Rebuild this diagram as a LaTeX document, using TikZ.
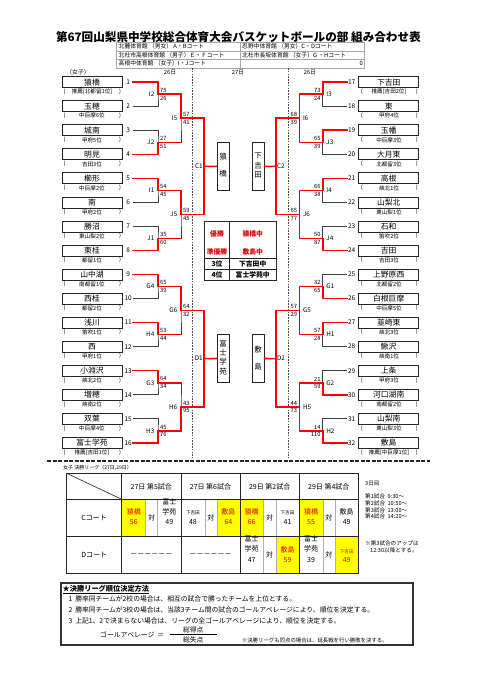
\documentclass[tikz,border=0pt]{standalone}
\usepackage{fontspec}
\setmainfont{Noto Sans CJK JP}
\usetikzlibrary{calc}
\definecolor{lred}{HTML}{FF0000}
\definecolor{tred}{HTML}{D80000}
\definecolor{hl}{HTML}{FFFF00}
\newcommand{\myfs}[1]{\fontsize{#1}{#1}\selectfont}
\begin{document}
\begin{tikzpicture}[x=1pt,y=-1pt,
  brk/.style={draw=black!75,line width=0.6pt},
  win/.style={draw=lred,line width=1.6pt,line cap=rect,line join=miter},
  tbox/.style={draw=black!85,line width=0.8pt,minimum width=60pt,minimum height=11pt,inner sep=0pt,font=\myfs{7.8}},
  vbox/.style={draw=black!85,line width=0.8pt,minimum width=12pt,minimum height=48.3pt,inner sep=0pt},
  vch/.style={inner sep=0pt,font=\myfs{7.5}},
  sub/.style={font=\myfs{5.6},inner sep=0pt},
  num/.style={font=\myfs{6.5},inner sep=0pt},
  sc/.style={font=\myfs{5.8},inner sep=0pt},
  lab/.style={font=\myfs{6.3},inner sep=0pt},
  hdr/.style={font=\myfs{5.8},inner sep=0pt,anchor=west},
  cell/.style={font=\myfs{7},inner sep=0pt},
  wcell/.style={font=\myfs{7},inner sep=0pt,text=tred},
  small/.style={font=\myfs{4.6},inner sep=0pt},
  note/.style={font=\myfs{5.6},inner sep=0pt,anchor=west},
  rule/.style={font=\myfs{6.8},inner sep=0pt,anchor=west},
  res/.style={font=\bfseries\myfs{6.8},inner sep=0pt},
  rres/.style={font=\bfseries\myfs{6.8},inner sep=0pt,text=tred},
]
\useasboundingbox (0,0) rectangle (481,680);
\fill[white] (0,0) rectangle (481,680);

% ---------- title and header ----------
\node[font=\bfseries\myfs{11.6},inner sep=0pt] (title) at (238.4,36.7) {第67回山梨県中学校総合体育大会バスケットボールの部 組み合わせ表};
\draw[gray!70,line width=0.5pt] (116.7,42.5) rectangle (364.3,67.8);
\draw[gray!70,line width=0.5pt] (116.7,50.9) -- (364.3,50.9) (116.7,59.3) -- (364.3,59.3) (240,42.5) -- (240,67.8);
\node[hdr] (h1) at (118.5,46.7) {北麓体育館 （男女） A・Bコート};
\node[hdr] (h2) at (242,46.7) {忍野中体育館 （男女）C・Dコート};
\node[hdr] (h3) at (118.5,55.1) {北杜市高根体育館 （男子）Ｅ・Ｆコート};
\node[hdr] (h4) at (242,55.1) {北杜市長坂体育館 （女子）G ・Hコート};
\node[hdr] (h5) at (118.5,63.5) {高根中体育館 （女子）I・Jコート};
\node[hdr,anchor=east] (h6) at (363,63.5) {0};

\node[hdr,anchor=center] (girls) at (78,72.5) {（女子）};
\node[hdr,anchor=center] (d1) at (170,72.5) {26日};
\node[hdr,anchor=center] (d2) at (238,72.5) {27日};
\node[hdr,anchor=center] (d3) at (310,72.5) {26日};

% dashed separators
\draw[black!70,line width=0.5pt,dash pattern=on 1.6pt off 1.2pt] (192.7,68) -- (192.7,458);
\draw[black!70,line width=0.5pt,dash pattern=on 1.6pt off 1.2pt] (288,68) -- (288,458);

% ---------- left teams ----------
\foreach \n/\s [count=\i] in {猿橋/推薦[北都留1位], 玉穂/中巨摩6位, 城南/甲府5位, 明見/吉田3位, 櫛形/中巨摩2位, 南/甲府2位, 勝沼/東山梨2位, 東桂/都留1位, 山中湖/南都留1位, 西桂/都留2位, 浅川/笛吹1位, 西/甲府1位, 小淵沢/峡北2位, 増穂/峡南2位, 双葉/中巨摩4位, 富士学苑/推薦[吉田1位]} {
  \pgfmathsetmacro\yy{82.2+24.04*(\i-1)}
  \node[tbox] (lt\i) at (92,\yy) {\n};
  \node[sub] (ls\i) at (92,\yy+9.6) {\s};
  \node[sub] (lpa\i) at (64.5,\yy+9.6) {(};
  \node[sub] (lpb\i) at (120,\yy+9.6) {)};
  \node[num] (ln\i) at (128.2,\yy) {\i};
  \coordinate (le\i) at (133,\yy);
}
% ---------- right teams ----------
\foreach \n/\s [count=\c] in {下吉田/推薦[吉田2位], 東/甲府4位, 玉幡/中巨摩3位, 大月東/北都留3位, 高根/峡北1位, 山梨北/東山梨1位, 石和/笛吹2位, 吉田/吉田3位, 上野原西/北都留2位, 白根巨摩/中巨摩5位, 韮崎東/峡北3位, 鰍沢/峡南1位, 上条/甲府3位, 河口湖南/南都留2位, 山梨南/東山梨3位, 敷島/推薦[中巨摩1位]} {
  \pgfmathtruncatemacro\i{\c+16}
  \pgfmathsetmacro\yy{82.2+24.04*(\c-1)}
  \node[tbox] (rt\i) at (388.7,\yy) {\n};
  \node[sub] (rs\i) at (389,\yy+9.6) {\s};
  \node[sub] (rpa\i) at (361.7,\yy+9.6) {(};
  \node[sub] (rpb\i) at (416.7,\yy+9.6) {)};
  \node[num] (rn\i) at (351.7,\yy) {\i};
  \coordinate (re\i) at (347,\yy);
}

% ---------- junction coordinates ----------
\foreach \k in {1,...,8} {
  \pgfmathsetmacro\m{82.2+24.04*(2*\k-1.5)}
  \coordinate (la\k) at (158,\m);
  \coordinate (ra\k) at (322.7,\m);
}
\foreach \j in {1,...,4} {
  \pgfmathsetmacro\m{82.2+24.04*(4*\j-2.5)}
  \coordinate (lb\j) at (181,\m);
  \coordinate (rb\j) at (299.3,\m);
}
\foreach \l in {1,2} {
  \pgfmathsetmacro\m{82.2+24.04*(8*\l-4.5)}
  \coordinate (lc\l) at (204,\m);
  \coordinate (rc\l) at (275.7,\m);
}

% ---------- semifinal boxes ----------
\node[vbox] (C1) at (223,166.4) {};
\node[vch] (C1a) at (223,157) {猿};
\node[vch] (C1b) at (223,174) {橋};
\node[vbox] (D1) at (223,358.5) {};
\node[vch] (D1a) at (223,343.5) {富};
\node[vch] (D1b) at (223,352.8) {士};
\node[vch] (D1c) at (223,362.1) {学};
\node[vch] (D1d) at (223,371.4) {苑};
\node[vbox] (C2) at (258.2,166.4) {};
\node[vch] (C2a) at (258.2,156) {下};
\node[vch] (C2b) at (258.2,165.5) {吉};
\node[vch] (C2c) at (258.2,175) {田};
\node[vbox] (D2) at (258.2,358.5) {};
\node[vch] (D2a) at (258.2,350) {敷};
\node[vch] (D2b) at (258.2,366.7) {島};

% ---------- black bracket lines ----------
\foreach \k in {1,...,8} {
  \pgfmathtruncatemacro\a{2*\k-1}\pgfmathtruncatemacro\b{2*\k}
  \pgfmathtruncatemacro\ra{2*\k+15}\pgfmathtruncatemacro\rb{2*\k+16}
  \draw[brk] (le\a) -| (la\k) |- (le\b);
  \draw[brk] (re\ra) -| (ra\k) |- (re\rb);
}
\foreach \j in {1,...,4} {
  \pgfmathtruncatemacro\a{2*\j-1}\pgfmathtruncatemacro\b{2*\j}
  \draw[brk] (la\a) -| (lb\j) |- (la\b);
  \draw[brk] (ra\a) -| (rb\j) |- (ra\b);
}
\foreach \l in {1,2} {
  \pgfmathtruncatemacro\a{2*\l-1}\pgfmathtruncatemacro\b{2*\l}
  \draw[brk] (lb\a) -| (lc\l) |- (lb\b);
  \draw[brk] (rb\a) -| (rc\l) |- (rb\b);
}
\draw[brk] (lc1) -- (C1.west);
\draw[brk] (lc2) -- (D1.west);
\draw[brk] (rc1) -- (C2.east);
\draw[brk] (rc2) -- (D2.east);

% ---------- red winner paths (left) ----------
\draw[win] (le1) -| (la1) -- (la1 -| lb1) -- (lb1) -- (lb1 -| lc1);
\draw[win] (le4) -| (la2) -- (la2 -| lb1);
\draw[win] (le5) -| (la3) -- (la3 -| lb2) -- (lb2) -- (lb2 -| lc1);
\draw[win] (le8) -| (la4) -- (la4 -| lb2);
\draw[win] (le9) -| (la5) -- (la5 -| lb3) -- (lb3) -- (lb3 -| lc2);
\draw[win] (le11) -| (la6) -- (la6 -| lb3);
\draw[win] (le13) -| (la7) -- (la7 -| lb4);
\draw[win] (le16) -| (la8) -- (la8 -| lb4) -- (lb4) -- (lb4 -| lc2);
\draw[win] (lb1 -| lc1) -- (lb2 -| lc1);
\draw[win] (lc1) -- (C1.west);
\draw[win] (lb3 -| lc2) -- (lb4 -| lc2);
\draw[win] (lc2) -- (D1.west);
% ---------- red winner paths (right) ----------
\draw[win] (re17) -| (ra1) -- (ra1 -| rb1) -- (rb1) -- (rb1 -| rc1);
\draw[win] (re19) -| (ra2) -- (ra2 -| rb1);
\draw[win] (re21) -| (ra3) -- (ra3 -| rb2);
\draw[win] (re24) -| (ra4) -- (ra4 -| rb2) -- (rb2) -- (rb2 -| rc1);
\draw[win] (re26) -| (ra5) -- (ra5 -| rb3) -- (rb3) -- (rb3 -| rc2);
\draw[win] (re27) -| (ra6) -- (ra6 -| rb3);
\draw[win] (re30) -| (ra7) -- (ra7 -| rb4);
\draw[win] (re32) -| (ra8) -- (ra8 -| rb4) -- (rb4) -- (rb4 -| rc2);
\draw[win] (rb1 -| rc1) -- (rb2 -| rc1);
\draw[win] (rc1) -- (C2.east);
\draw[win] (rb3 -| rc2) -- (rb4 -| rc2);
\draw[win] (rc2) -- (D2.east);

% ---------- labels and scores ----------
\foreach \l/\t/\b [count=\k] in {I2/75/26, J2/27/51, I1/54/45, J1/35/60, G4/65/39, H4/53/44, G3/64/34, H3/45/76} {
  \node[lab,anchor=east] (lal\k) at ($(la\k)+(-3.5,0)$) {\l};
  \node[sc,anchor=west] (lat\k) at ($(la\k)+(2,-3.8)$) {\t};
  \node[sc,anchor=west] (lab\k) at ($(la\k)+(2,3.8)$) {\b};
}
\foreach \l/\t/\b [count=\k] in {I5/57/41, J5/59/45, G6/64/32, H6/43/95} {
  \node[lab,anchor=east] (lbl\k) at ($(lb\k)+(-3.5,0)$) {\l};
  \node[sc,anchor=west] (lbt\k) at ($(lb\k)+(2,-3.8)$) {\t};
  \node[sc,anchor=west] (lbb\k) at ($(lb\k)+(2,3.8)$) {\b};
}
\foreach \l/\t/\b [count=\k] in {I3/73/24, J3/65/39, I4/66/38, J4/50/87, G1/32/65, H1/57/28, G2/21/59, H2/14/110} {
  \node[lab,anchor=west] (ral\k) at ($(ra\k)+(3.5,0)$) {\l};
  \node[sc,anchor=east] (rat\k) at ($(ra\k)+(-2,-3.8)$) {\t};
  \node[sc,anchor=east] (rab\k) at ($(ra\k)+(-2,3.8)$) {\b};
}
\foreach \l/\t/\b [count=\k] in {I6/68/39, J6/65/77, G5/57/29, H5/44/73} {
  \node[lab,anchor=west] (rbl\k) at ($(rb\k)+(3.5,0)$) {\l};
  \node[sc,anchor=east] (rbt\k) at ($(rb\k)+(-2,-3.8)$) {\t};
  \node[sc,anchor=east] (rbb\k) at ($(rb\k)+(-2,3.8)$) {\b};
}
\node[lab,anchor=east] (lcl1) at ($(lc1)+(-1.2,0)$) {C1};
\node[lab,anchor=east] (lcl2) at ($(lc2)+(-1.2,0)$) {D1};
\node[lab,anchor=west] (rcl1) at ($(rc1)+(1.2,0)$) {C2};
\node[lab,anchor=west] (rcl2) at ($(rc2)+(1.2,0)$) {D2};

% ---------- result table ----------
\draw[black!85,line width=0.7pt] (204.5,221) rectangle (276,280.5);
\draw[black!85,line width=0.7pt] (229.5,221) -- (229.5,280.5) (204.5,258.5) -- (276,258.5) (204.5,269.5) -- (276,269.5);
\node[rres] (r1a) at (217,234.3) {優勝};
\node[rres] (r1b) at (252.7,234.3) {猿橋中};
\node[rres] (r2a) at (217,252) {準優勝};
\node[rres] (r2b) at (252.7,252) {敷島中};
\node[res] (r3a) at (217,264) {3位};
\node[res] (r3b) at (252.7,264) {下吉田中};
\node[res] (r4a) at (217,275) {4位};
\node[res] (r4b) at (252.7,275) {富士学苑中};

% ---------- thick dashed separator ----------
\draw[black!85,line width=1.6pt,dash pattern=on 4pt off 1.5pt] (47,461) -- (430,461);
\node[note,font=\myfs{5}] (lg) at (63,467.5) {女子\ 決勝リーグ（27日,29日）};

% ---------- league table ----------
\fill[hl] (121.7,499.3) rectangle (145.6,536);
\fill[hl] (216.8,499.3) rectangle (240,536);
\fill[hl] (240,499.3) rectangle (263.3,536);
\fill[hl] (299.3,499.3) rectangle (322.7,536);
\fill[hl] (275.7,536) rectangle (299.3,573.8);
\fill[hl] (335,536) rectangle (358.3,573.8);
\draw[gray!60,line width=0.4pt]
  (145.6,499.3) -- (145.6,536) (157.5,499.3) -- (157.5,536)
  (204.7,499.3) -- (204.7,536) (216.8,499.3) -- (216.8,536)
  (263.3,499.3) -- (263.3,573.8) (275.7,499.3) -- (275.7,573.8)
  (322.7,499.3) -- (322.7,573.8) (335,499.3) -- (335,573.8);
\draw[black!85,line width=0.9pt] (66.7,473.3) rectangle (358.3,573.8);
\draw[black!85,line width=0.7pt] (66.7,499.3) -- (358.3,499.3) (66.7,536) -- (358.3,536)
  (121.7,473.3) -- (121.7,573.8) (181,473.3) -- (181,573.8)
  (240,473.3) -- (240,573.8) (299.3,473.3) -- (299.3,573.8);
\draw[black!85,line width=0.6pt] (66.7,473.3) -- (121.7,499.3);
\node[cell] (g1) at (151.3,486.7) {27日\ 第5試合};
\node[cell] (g2) at (210.5,486.7) {27日\ 第6試合};
\node[cell] (g3) at (269.7,486.7) {29日\ 第2試合};
\node[cell] (g4) at (328.8,486.7) {29日\ 第4試合};
\node[cell] (cc) at (94.2,518) {Cコート};
\node[cell] (dc) at (94.2,555) {Dコート};
% C row
\node[wcell] (c1an) at (133.8,512.3) {猿橋};
\node[wcell] (c1as) at (133.8,522.3) {56};
\node[cell] (c1v) at (151.5,517.7) {対};
\node[cell] (c1bn1) at (169.3,502) {富士};
\node[cell] (c1bn2) at (169.3,511.7) {学苑};
\node[cell] (c1bs) at (169.3,522.3) {49};
\node[small] (c2an) at (192.9,513) {下吉田};
\node[cell] (c2as) at (192.9,522.3) {48};
\node[cell] (c2v) at (210.8,517.7) {対};
\node[wcell] (c2bn) at (228.4,512.3) {敷島};
\node[wcell] (c2bs) at (228.4,522.3) {64};
\node[wcell] (c3an) at (251.7,512.3) {猿橋};
\node[wcell] (c3as) at (251.7,522.3) {66};
\node[cell] (c3v) at (269.5,517.7) {対};
\node[small] (c3bn) at (287.5,513) {下吉田};
\node[cell] (c3bs) at (287.5,522.3) {41};
\node[wcell] (c4an) at (311,512.3) {猿橋};
\node[wcell] (c4as) at (311,522.3) {55};
\node[cell] (c4v) at (328.9,517.7) {対};
\node[cell] (c4bn) at (346.7,512.3) {敷島};
\node[cell] (c4bs) at (346.7,522.3) {49};
% D row
\node[cell] (d1x) at (151.3,555) {－－－－－－};
\node[cell] (d2x) at (210.5,555) {－－－－－－};
\node[cell] (d3an1) at (251.7,538.8) {富士};
\node[cell] (d3an2) at (251.7,548.5) {学苑};
\node[cell] (d3as) at (251.7,559.5) {47};
\node[cell] (d3v) at (269.5,555) {対};
\node[wcell] (d3bn) at (287.5,550) {敷島};
\node[wcell] (d3bs) at (287.5,559.5) {59};
\node[cell] (d4an1) at (311,538.8) {富士};
\node[cell] (d4an2) at (311,548.5) {学苑};
\node[cell] (d4as) at (311,559.5) {39};
\node[cell] (d4v) at (328.9,555) {対};
\node[small,text=tred] (d4bn) at (346.7,551.5) {下吉田};
\node[wcell] (d4bs) at (346.7,559.5) {49};

% ---------- schedule notes ----------
\node[note] (n0) at (365,483.3) {3日目};
\node[note] (n1) at (365,496.7) {第1試合\ \ 9:30～};
\node[note] (n2) at (365,503.3) {第2試合\ \ 10:50～};
\node[note] (n3) at (365,510) {第3試合\ \ 13:00～};
\node[note] (n4) at (365,516.7) {第4試合\ \ 14:20～};
\node[note] (n5) at (365,543.3) {※第3試合のアップは};
\node[note] (n6) at (370,550) {12:30以降とする。};

% ---------- rules box ----------
\draw[black!80,line width=1.8pt] (60.7,583.3) rectangle (413.3,645);
\node[rule,font=\bfseries\myfs{7.2}] (rt) at (62.5,589.5) {\underline{★決勝リーグ順位決定方法}};
\node[rule] (rl1) at (68.3,598.5) {1\ \ 勝率同チームが2校の場合は、相互の試合で勝ったチームを上位とする。};
\node[rule] (rl2) at (68.3,609.5) {2\ \ 勝率同チームが3校の場合は、当該3チーム間の試合のゴールアベレージにより、順位を決定する。};
\node[rule] (rl3) at (68.3,620.8) {3\ \ 上記1、2で決まらない場合は、リーグの全ゴールアベレージにより、順位を決定する。};
\node[rule] (ga) at (100,634.3) {ゴールアベレージ\ \ ＝};
\coordinate (fl) at (170,634.3);
\coordinate (fr) at (216.7,634.3);
\draw[black,line width=0.6pt] (fl) -- (fr);
\node[cell,font=\myfs{6.8}] (fn) at (193.3,629.5) {総得点};
\node[cell,font=\myfs{6.8}] (fd) at (193.3,639.6) {総失点};
\node[note,font=\myfs{5.4}] (fnote) at (241.7,640.5) {※決勝リーグも同点の場合は、延長戦を行い勝敗を決する。};
\end{tikzpicture}
\end{document}
